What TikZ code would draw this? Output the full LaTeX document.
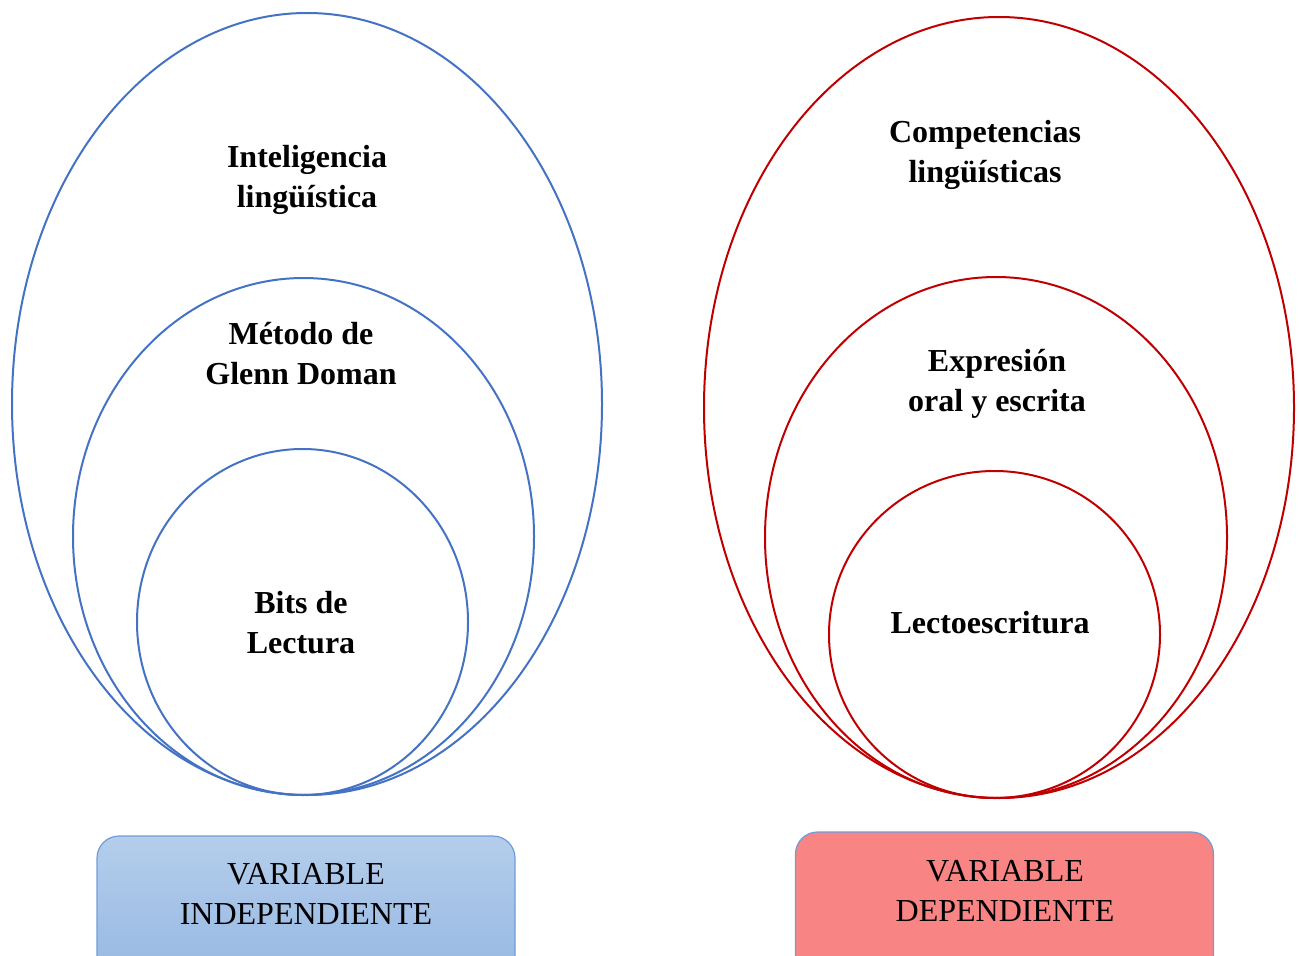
\documentclass[tikz,border=0pt]{standalone}
\usepackage{fontspec}
\setmainfont{Liberation Serif}
\usetikzlibrary{shapes.geometric}
\definecolor{azul}{HTML}{4472C4}
\definecolor{rojo}{HTML}{C00000}
\definecolor{borde}{HTML}{6D9EDA}
\definecolor{celesteA}{HTML}{B4CDEB}
\definecolor{celesteB}{HTML}{93B6E2}
\definecolor{salmon}{HTML}{F88483}

\begin{document}
\begin{tikzpicture}[x=1pt, y=-1pt,
  elipse/.style={ellipse, draw, line width=2pt, inner sep=0pt},
  texto/.style={font=\fontsize{32}{40}\selectfont\bfseries, align=center},
  caja/.style={draw=borde, line width=1.2pt, rounded corners=22pt, minimum width=418pt, minimum height=160pt, inner sep=0pt},
  rotulo/.style={font=\fontsize{32}{40}\selectfont, align=center}]
\useasboundingbox (0,0) rectangle (1300,955);
% variable independiente
\node [elipse, azul, minimum width=590pt, minimum height=782pt] (inteligencia) at (307,404) {};
\node [elipse, azul, minimum width=461pt, minimum height=517pt] (metodo) at (303.5,536.5) {};
\node [elipse, azul, minimum width=331pt, minimum height=346pt] (bits) at (302.5,622) {};
\node [texto] (tinteligencia) at (307,180) {Inteligencia\\lingüística};
\node [texto] (tmetodo) at (301,354) {Método de\\Glenn Doman};
\node [texto] (tbits) at (301,623) {Bits de\\Lectura};
% variable dependiente
\node [elipse, rojo, minimum width=590pt, minimum height=781pt] (competencias) at (999,407.5) {};
\node [elipse, rojo, minimum width=462pt, minimum height=521pt] (expresion) at (996,537.5) {};
\node [elipse, rojo, minimum width=331pt, minimum height=327pt] (lecto) at (994.5,634.5) {};
\node [texto] (tcompetencias) at (985,155) {Competencias\\lingüísticas};
\node [texto] (texpresion) at (997,384) {Expresión\\oral y escrita};
\node [texto] (tlecto) at (990,623) {Lectoescritura};
% rotulos
\node [caja, top color=celesteA, bottom color=celesteB] (independiente) at (306,916) {};
\node [caja, fill=salmon] (dependiente) at (1004.5,912) {};
\node [rotulo] at (306,894) {VARIABLE\\INDEPENDIENTE};
\node [rotulo] at (1005,891) {VARIABLE\\DEPENDIENTE};
\end{tikzpicture}
\end{document}
